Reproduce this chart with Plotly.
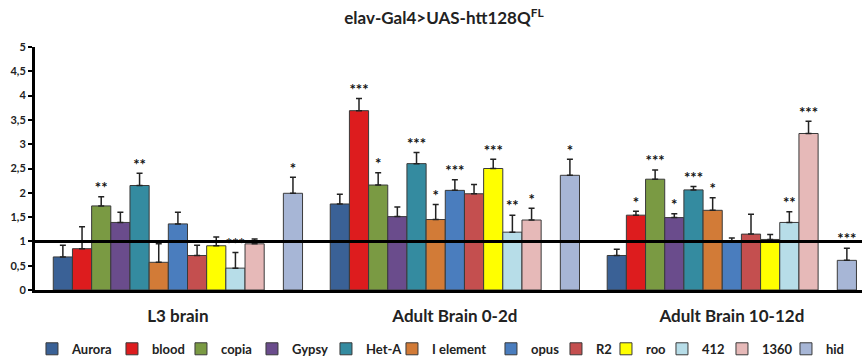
import plotly.graph_objects as go

# Relative expression of transposable elements in elav-Gal4>UAS-htt128Q(FL) flies
stages = ["L3 brain", "Adult Brain 0-2d", "Adult Brain 10-12d"]

elements = ["Aurora", "blood", "copia", "Gypsy", "Het-A", "I element",
            "opus", "R2", "roo", "412", "1360", "hid"]

colors = ["#3A6196", "#DD1C1E", "#7A9A43", "#6A4C8C", "#348BA0", "#D27B37",
          "#4A7DBE", "#C44F4F", "#FFFF00", "#B7DDE8", "#E6B9B8", "#A7B6D6"]

# mean fold change per stage (L3, 0-2d, 10-12d)
values = {
    "Aurora":    [0.68, 1.77, 0.71],
    "blood":     [0.85, 3.69, 1.54],
    "copia":     [1.73, 2.16, 2.28],
    "Gypsy":     [1.39, 1.51, 1.49],
    "Het-A":     [2.15, 2.60, 2.06],
    "I element": [0.57, 1.45, 1.64],
    "opus":      [1.36, 2.05, 1.00],
    "R2":        [0.71, 1.98, 1.15],
    "roo":       [0.91, 2.50, 1.04],
    "412":       [0.45, 1.19, 1.39],
    "1360":      [0.95, 1.44, 3.22],
    "hid":       [1.99, 2.36, 0.61],
}

# standard error (upper bars only)
errors = {
    "Aurora":    [0.24, 0.20, 0.13],
    "blood":     [0.45, 0.25, 0.08],
    "copia":     [0.19, 0.25, 0.19],
    "Gypsy":     [0.21, 0.20, 0.08],
    "Het-A":     [0.25, 0.23, 0.07],
    "I element": [0.38, 0.31, 0.26],
    "opus":      [0.24, 0.22, 0.07],
    "R2":        [0.21, 0.19, 0.41],
    "roo":       [0.18, 0.19, 0.10],
    "412":       [0.32, 0.35, 0.22],
    "1360":      [0.10, 0.24, 0.25],
    "hid":       [0.33, 0.33, 0.25],
}

# significance marks
stars = {
    "Aurora":    [None, None, None],
    "blood":     [None, "***", "*"],
    "copia":     ["**", "*", "***"],
    "Gypsy":     [None, None, "*"],
    "Het-A":     ["**", "***", "***"],
    "I element": [None, "*", "*"],
    "opus":      [None, "***", None],
    "R2":        [None, None, None],
    "roo":       [None, "***", None],
    "412":       ["***", "**", "**"],
    "1360":      [None, "*", "***"],
    "hid":       ["*", "*", "***"],
}

y_ticks = [0, 0.5, 1, 1.5, 2, 2.5, 3, 3.5, 4, 4.5, 5]
baseline = 1

# legend entry widths (px) so the legend stays on one row
legend_widths = [35, 24, 26, 29, 21, 54, 20, 5, 11, 15, 19, 20]

FONT = "Lato"
INK = "#111111"

# slot order: a spacer slot sits between 1360 and hid
slots = elements[:11] + [None] + elements[11:]

fig = go.Figure()
for i, name in enumerate(slots):
    og = f"g{i}"
    if name is None:
        fig.add_trace(go.Bar(x=stages, y=[None] * 3, offsetgroup=og,
                             showlegend=False, hoverinfo="skip"))
        fig.add_trace(go.Scatter(x=stages, y=[None] * 3, offsetgroup=og,
                                 mode="text", showlegend=False,
                                 hoverinfo="skip"))
        continue
    k = elements.index(name)
    fig.add_trace(go.Bar(
        x=stages, y=values[name], name=name, offsetgroup=og,
        legendwidth=legend_widths[k],
        marker=dict(color=colors[k], line=dict(color="#3a3a3a", width=1)),
        error_y=dict(type="data", symmetric=False, array=errors[name],
                     arrayminus=[0] * 3, color="#222222", thickness=1.5, width=3),
    ))
    # stars sit on top of each error bar; unmarked points carry no label
    tops = [v + e if s else None
            for v, e, s in zip(values[name], errors[name], stars[name])]
    fig.add_trace(go.Scatter(
        x=stages, y=tops, offsetgroup=og, mode="text", text=stars[name],
        textposition="top center",
        textfont=dict(family=FONT, size=15, color=INK, weight="bold"),
        showlegend=False, hoverinfo="skip", cliponaxis=False,
    ))

fig.add_shape(type="line", xref="paper", x0=0, x1=1, yref="y",
              y0=baseline, y1=baseline, line=dict(color="black", width=3))

fig.update_layout(
    width=862, height=363,
    margin=dict(l=35, r=0, t=47, b=73),
    paper_bgcolor="white", plot_bgcolor="white",
    barmode="group", bargap=0.1, bargroupgap=0,
    scattermode="group", scattergap=0.1,
    separators=", ",
    font=dict(family=FONT, color="#222222"),
    title=dict(text="<b>elav-Gal4&gt;UAS-htt128Q<sup>FL</sup></b>",
               x=0.515, xanchor="center", y=0.95, yanchor="middle",
               font=dict(size=17, color="#222222")),
    legend=dict(orientation="h", xref="container", x=0.0371, xanchor="left",
                yref="container", y=0.039, yanchor="middle", itemwidth=30,
                font=dict(size=13, color="#222222", weight="bold"),
                traceorder="normal"),
    showlegend=True,
)
fig.update_xaxes(type="category", range=[-0.516, 2.47], showgrid=False,
                 showline=True, linecolor="black", linewidth=3, ticks="",
                 tickfont=dict(size=17, color="#222222", weight="bold"),
                 ticklabelstandoff=9, automargin=False)
fig.update_yaxes(range=[0, 5], tickvals=y_ticks, showgrid=False, zeroline=False,
                 showline=True, linecolor="black", linewidth=3,
                 ticks="outside", ticklen=4, tickwidth=2, tickcolor="black",
                 tickfont=dict(size=11, color="#222222", weight="bold"),
                 automargin=False)

fig.write_html("out.html")
